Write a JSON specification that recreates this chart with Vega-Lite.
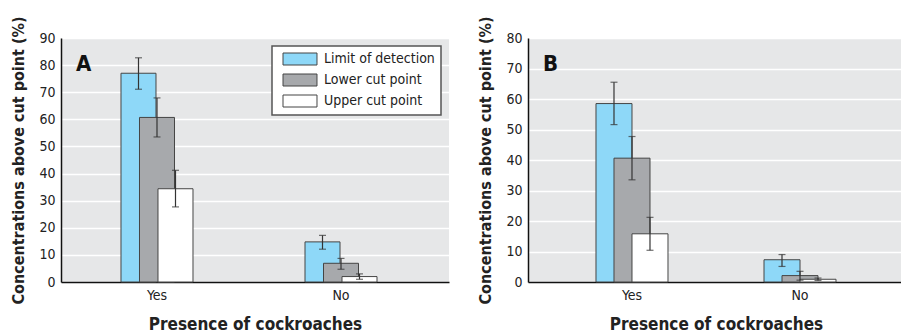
{
  "$schema": "https://vega.github.io/schema/vega-lite/v6.json",
  "padding": {"left": 10, "top": 15, "right": 0, "bottom": 0},
  "spacing": 28,
  "datasets": {
    "d": [
      {"panel": "A", "roach": "Yes", "measure": "Limit of detection", "value": 77.0, "lo": 71.1, "hi": 82.7},
      {"panel": "A", "roach": "Yes", "measure": "Lower cut point", "value": 60.7, "lo": 53.5, "hi": 67.9},
      {"panel": "A", "roach": "Yes", "measure": "Upper cut point", "value": 34.4, "lo": 27.7, "hi": 41.2},
      {"panel": "A", "roach": "No", "measure": "Limit of detection", "value": 14.8, "lo": 12.1, "hi": 17.2},
      {"panel": "A", "roach": "No", "measure": "Lower cut point", "value": 6.9, "lo": 4.7, "hi": 8.7},
      {"panel": "A", "roach": "No", "measure": "Upper cut point", "value": 2.0, "lo": 1.0, "hi": 3.0},
      {"panel": "B", "roach": "Yes", "measure": "Limit of detection", "value": 58.5, "lo": 51.6, "hi": 65.5},
      {"panel": "B", "roach": "Yes", "measure": "Lower cut point", "value": 40.6, "lo": 33.5, "hi": 47.7},
      {"panel": "B", "roach": "Yes", "measure": "Upper cut point", "value": 15.8, "lo": 10.4, "hi": 21.2},
      {"panel": "B", "roach": "No", "measure": "Limit of detection", "value": 7.3, "lo": 5.1, "hi": 9.0},
      {"panel": "B", "roach": "No", "measure": "Lower cut point", "value": 2.1, "lo": 0.6, "hi": 3.5},
      {"panel": "B", "roach": "No", "measure": "Upper cut point", "value": 0.9, "lo": 0.5, "hi": 1.3}
    ]
  },
  "config": {
    "font": "Liberation Sans Narrow, DejaVu Sans Condensed, sans-serif",
    "view": {"fill": "#E6E7E8", "stroke": null},
    "axis": {
      "labelFont": "Liberation Sans Narrow, DejaVu Sans Condensed, sans-serif",
      "titleFont": "Liberation Sans Narrow, DejaVu Sans Condensed, sans-serif",
      "labelFontSize": 14,
      "labelColor": "#222",
      "titleColor": "#222",
      "titleFontWeight": "bold",
      "domainColor": "#111",
      "domainWidth": 1.5,
      "ticks": false
    },
    "axisY": {"gridColor": "#FFFFFF", "gridWidth": 1.5, "labelPadding": 6, "titleFontSize": 16, "titlePadding": 12, "labelOverlap": false},
    "axisX": {"grid": false, "labelAngle": 0, "labelPadding": 6, "titleFontSize": 17, "titlePadding": 14},
    "legend": {
      "labelFont": "Liberation Sans Narrow, DejaVu Sans Condensed, sans-serif",
      "labelFontSize": 14,
      "labelColor": "#222",
      "orient": "top-right",
      "offset": 8,
      "fillColor": "#FFFFFF",
      "strokeColor": "#555",
      "strokeWidth": 1.5,
      "padding": 6,
      "symbolType": "M-0.333,-1L5.333,-1L5.333,1L-0.333,1Z",
      "symbolSize": 144,
      "symbolStrokeColor": "#444",
      "symbolStrokeWidth": 1,
      "symbolOpacity": 1,
      "rowPadding": 5,
      "labelOffset": 32
    },
    "title": {"font": "Liberation Sans Narrow, DejaVu Sans Condensed, sans-serif", "fontSize": 22, "fontWeight": "bold", "anchor": "start", "color": "#111", "frame": "group"}
  },
  "hconcat": [
    {
      "width": 388,
      "height": 244,
      "data": {"name": "d"},
      "transform": [{"filter": "datum.panel == 'A'"}],
      "title": {"text": "A", "offset": -60, "dx": 15},
      "encoding": {
        "x": {"field": "roach", "type": "nominal", "sort": ["Yes", "No"], "scale": {"paddingInner": 0, "paddingOuter": 0.0543, "align": 0.2}, "axis": {"title": "Presence of cockroaches"}},
        "xOffset": {"field": "measure", "type": "nominal", "sort": ["Limit of detection", "Lower cut point", "Upper cut point"], "scale": {"paddingInner": 0, "paddingOuter": 0, "range": [64.25, 119.75]}}
      },
      "layer": [
        {
          "mark": {"type": "bar", "width": 35, "stroke": "#444", "strokeWidth": 1},
          "encoding": {
            "y": {"field": "value", "type": "quantitative", "scale": {"domain": [0, 90]}, "axis": {"title": "Concentrations above cut point (%)", "values": [0, 10, 20, 30, 40, 50, 60, 70, 80, 90]}},
            "color": {"field": "measure", "type": "nominal", "sort": ["Limit of detection", "Lower cut point", "Upper cut point"], "scale": {"domain": ["Limit of detection", "Lower cut point", "Upper cut point"], "range": ["#8ED8F8", "#A7A9AC", "#FFFFFF"]}, "legend": {"title": null}}
          }
        },
        {
          "mark": {"type": "rule", "color": "#333", "strokeWidth": 1.2},
          "encoding": {"y": {"field": "lo", "type": "quantitative", "axis": {"title": "Concentrations above cut point (%)", "values": [0, 10, 20, 30, 40, 50, 60, 70, 80, 90]}}, "y2": {"field": "hi"}}
        },
        {
          "mark": {"type": "tick", "color": "#333", "size": 7, "thickness": 1.2},
          "encoding": {"y": {"field": "lo", "type": "quantitative", "axis": {"title": "Concentrations above cut point (%)", "values": [0, 10, 20, 30, 40, 50, 60, 70, 80, 90]}}}
        },
        {
          "mark": {"type": "tick", "color": "#333", "size": 7, "thickness": 1.2},
          "encoding": {"y": {"field": "hi", "type": "quantitative", "axis": {"title": "Concentrations above cut point (%)", "values": [0, 10, 20, 30, 40, 50, 60, 70, 80, 90]}}}
        }
      ]
    },
    {
      "width": 376,
      "height": 244,
      "data": {"name": "d"},
      "transform": [{"filter": "datum.panel == 'B'"}],
      "title": {"text": "B", "offset": -60, "dx": 15},
      "encoding": {
        "x": {"field": "roach", "type": "nominal", "sort": ["Yes", "No"], "scale": {"paddingInner": 0, "paddingOuter": 0.119, "align": 0.5}, "axis": {"title": "Presence of cockroaches"}},
        "xOffset": {"field": "measure", "type": "nominal", "sort": ["Limit of detection", "Lower cut point", "Upper cut point"], "scale": {"paddingInner": 0, "paddingOuter": 0, "range": [57, 111]}}
      },
      "layer": [
        {
          "mark": {"type": "bar", "width": 36, "stroke": "#444", "strokeWidth": 1},
          "encoding": {
            "y": {"field": "value", "type": "quantitative", "scale": {"domain": [0, 80]}, "axis": {"title": "Concentrations above cut point (%)", "values": [0, 10, 20, 30, 40, 50, 60, 70, 80]}},
            "color": {"field": "measure", "type": "nominal", "sort": ["Limit of detection", "Lower cut point", "Upper cut point"], "scale": {"domain": ["Limit of detection", "Lower cut point", "Upper cut point"], "range": ["#8ED8F8", "#A7A9AC", "#FFFFFF"]}, "legend": null}
          }
        },
        {
          "mark": {"type": "rule", "color": "#333", "strokeWidth": 1.2},
          "encoding": {"y": {"field": "lo", "type": "quantitative", "axis": {"title": "Concentrations above cut point (%)", "values": [0, 10, 20, 30, 40, 50, 60, 70, 80]}}, "y2": {"field": "hi"}}
        },
        {
          "mark": {"type": "tick", "color": "#333", "size": 7, "thickness": 1.2},
          "encoding": {"y": {"field": "lo", "type": "quantitative", "axis": {"title": "Concentrations above cut point (%)", "values": [0, 10, 20, 30, 40, 50, 60, 70, 80]}}}
        },
        {
          "mark": {"type": "tick", "color": "#333", "size": 7, "thickness": 1.2},
          "encoding": {"y": {"field": "hi", "type": "quantitative", "axis": {"title": "Concentrations above cut point (%)", "values": [0, 10, 20, 30, 40, 50, 60, 70, 80]}}}
        }
      ]
    }
  ],
  "resolve": {"scale": {"color": "independent", "y": "independent", "x": "independent", "xOffset": "independent"}}
}
